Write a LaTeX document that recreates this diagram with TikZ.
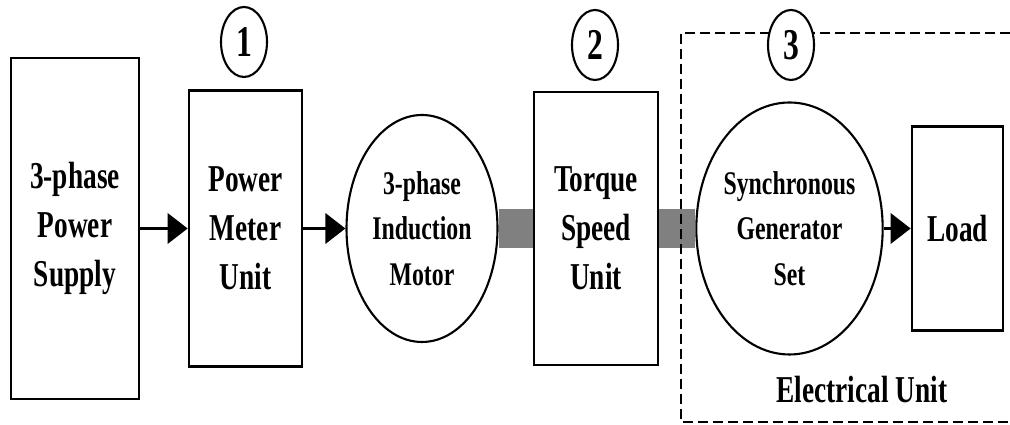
\documentclass[tikz,border=0pt]{standalone}
\usepackage{fontspec}
\usepackage{tikz}
\usetikzlibrary{shapes.geometric, arrows.meta, positioning}
\newfontfamily\narrowserif[FakeStretch=0.72]{Liberation Serif}
\tikzset{
    unitbox/.style={rectangle, draw=black, line width=1.5pt, align=center, font=\narrowserif\bfseries\fontsize{21.6}{27.8}\selectfont},
    machine/.style={ellipse, draw=black, line width=1.2pt, inner sep=0pt, align=center, fill=white, font=\narrowserif\bfseries\fontsize{18.8}{26}\selectfont},
    stagenum/.style={ellipse, draw=black, line width=1.2pt, fill=white, inner sep=0pt, minimum width=0.92cm, minimum height=1.4cm, font=\narrowserif\bfseries\fontsize{25}{28}\selectfont},
    arrow/.style={line width=2pt, -{Triangle[length=0.4cm, width=0.6cm]}},
    shaft/.style={line width=0.78cm, draw=black!50},
    group/.style={dashed, dash pattern=on 0.2cm off 0.1cm, line width=1pt}
}

\begin{document}
\begin{tikzpicture}
    \useasboundingbox (0, 0) rectangle (20.2, 8.5);

    % Blocks
    \node[unitbox, minimum width=2.56cm, minimum height=6.82cm] (supply) at (1.50, 3.93) {3-phase\\Power\\Supply};
    \node[unitbox, minimum width=2.26cm, minimum height=5.52cm] (meter) at (4.91, 3.93) {Power\\Meter\\Unit};
    \node[machine, minimum width=3.02cm, minimum height=4.54cm] (motor) at (8.44, 3.93) {3-phase\\Induction\\Motor};
    \node[unitbox, minimum width=2.48cm, minimum height=5.46cm] (torque) at (11.92, 3.93) {Torque\\Speed\\Unit};
    \node[machine, minimum width=3.50cm, minimum height=5.04cm] (generator) at (15.79, 3.93) {Synchronous\\Generator\\Set};
    \node[unitbox, minimum width=1.82cm, minimum height=4.08cm] (load) at (19.15, 3.93) {Load};

    % Shafts
    \draw[shaft] (motor) -- (torque);
    \draw[shaft] (torque) -- (generator);

    % Arrows
    \draw[arrow] (supply) -- (meter);
    \draw[arrow] (meter) -- (motor);
    \draw[arrow] (generator) -- (load);

    % Electrical unit group
    \coordinate (groupTR) at (20.2, 7.84);
    \coordinate (groupTL) at (13.62, 7.84);
    \coordinate (groupBL) at (13.62, 0.06);
    \coordinate (groupBR) at (20.2, 0.06);
    \draw[group] (groupTR) -- (groupTL) -- (groupBL) -- (groupBR);
    \node[font=\narrowserif\bfseries\fontsize{21.6}{27.8}\selectfont] (elabel) at (17.24, 0.70) {Electrical Unit};

    % Stage numbers
    \node[stagenum] (num1) at (4.88, 7.66) {1};
    \node[stagenum] (num2) at (11.90, 7.60) {2};
    \node[stagenum] (num3) at (15.82, 7.60) {3};
\end{tikzpicture}
\end{document}
